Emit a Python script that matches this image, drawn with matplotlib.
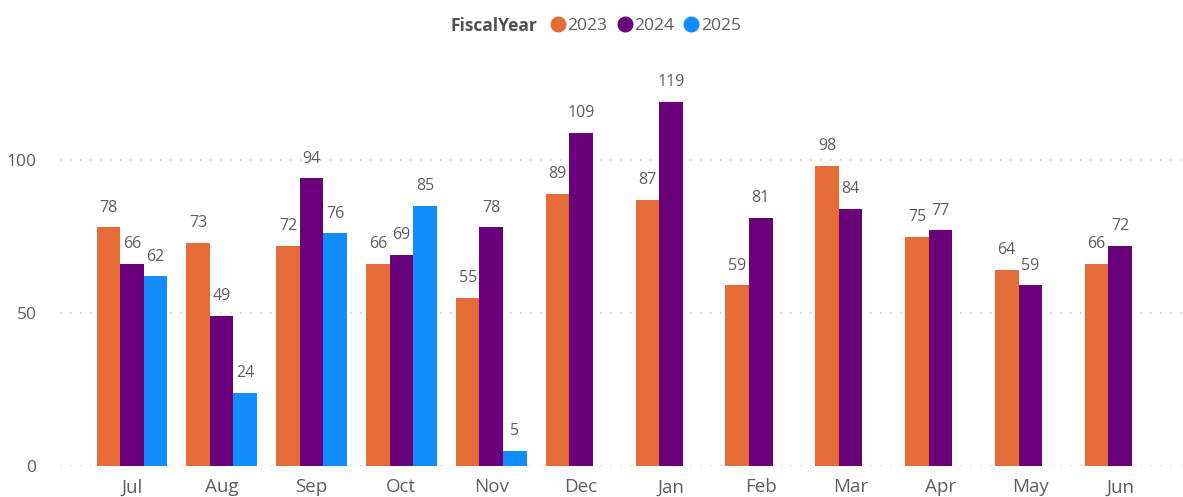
import numpy as np
import matplotlib.pyplot as plt
from matplotlib.lines import Line2D

plt.rcParams['font.family'] = ['Open Sans', 'DejaVu Sans']

months = ['Jul', 'Aug', 'Sep', 'Oct', 'Nov', 'Dec', 'Jan', 'Feb', 'Mar', 'Apr', 'May', 'Jun']
years = ['2023', '2024', '2025']
fy2023 = [78, 73, 72, 66, 55, 89, 87, 59, 98, 75, 64, 66]
fy2024 = [66, 49, 94, 69, 78, 109, 119, 81, 84, 77, 59, 72]
fy2025 = [62, 24, 76, 85, 5, np.nan, np.nan, np.nan, np.nan, np.nan, np.nan, np.nan]
colors = ['#E66C37', '#6B007B', '#118DFF']

W, H = 1183, 497
fig = plt.figure(figsize=(W / 100, H / 100), dpi=100)
ax = fig.add_axes([60 / W, 31 / H, 1 - 60 / W, (466 - 60) / H])

x = np.arange(len(months))
bw = 0.262
text_col = '#605E5C'
for i, (vals, c) in enumerate(zip([fy2023, fy2024, fy2025], colors)):
    pos = x + (i - 1) * bw
    ax.bar(pos, vals, width=bw, color=c, zorder=3)
    for p, v in zip(pos, vals):
        if np.isnan(v):
            continue
        ax.annotate(f'{v:g}', (p, v), xytext=(0, 8.5), textcoords='offset points',
                    ha='center', va='bottom', fontsize=11.5, color=text_col)

ax.set_xlim(-0.8, 11.7)
ax.set_ylim(0, 132.7)
ax.set_xticks(x)
ax.set_xticklabels(months)
ax.set_yticks([0, 50, 100])
ax.tick_params(axis='both', length=0, labelsize=12.5, labelcolor=text_col)
ax.tick_params(axis='x', labelsize=13.5, pad=9)
ax.tick_params(axis='y', pad=17)
ax.yaxis.grid(True, linestyle=(0, (1, 5)), color='#D0CECC', linewidth=1.2, zorder=0)
for s in ax.spines.values():
    s.set_visible(False)

fig.text(537 / W, 1 - 26 / H, 'FiscalYear', ha='right', va='center',
         fontsize=12.5, fontweight='bold', color='#505050')
handles = [Line2D([], [], marker='o', linestyle='none', markersize=10.5, color=c) for c in colors]
fig.legend(handles, years, loc='center left', bbox_to_anchor=(542 / W, 1 - 26 / H),
           ncol=3, frameon=False, fontsize=12.5, handlelength=0.8, handletextpad=0.15,
           columnspacing=0.6, borderpad=0, labelcolor=text_col)

fig.savefig('out.png', dpi=100)
